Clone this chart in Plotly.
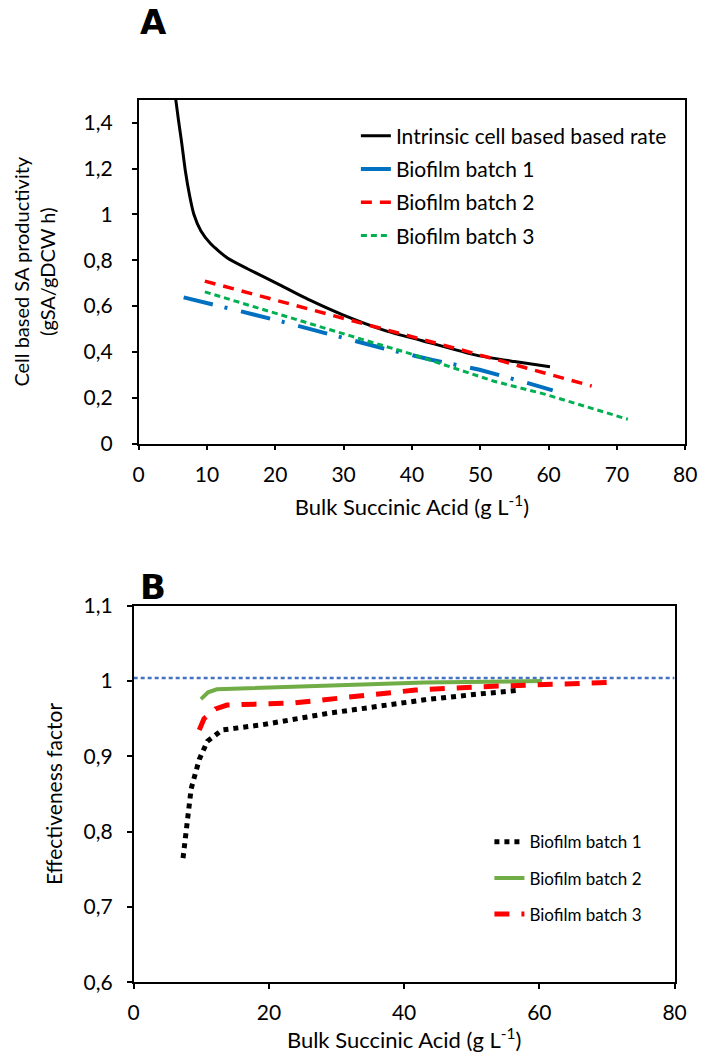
import plotly.graph_objects as go

# ---------------- Panel A data ----------------
intrinsic_x = [5.45, 5.85, 6.28, 6.85, 7.47, 8.1, 9.13, 10.56, 13.0, 16.0, 20.3, 25.0, 29.8, 36.2, 41.4, 49.4, 55.0, 60.2]
intrinsic_y = [1.50, 1.41, 1.32, 1.19, 1.083, 1.00, 0.928, 0.872, 0.81, 0.762, 0.698, 0.627, 0.563, 0.492, 0.45, 0.386, 0.358, 0.335]

a_batch1_x = [6.6, 10, 15, 20, 27.2, 35.6, 43, 49.9, 56.8, 60.6]
a_batch1_y = [0.638, 0.612, 0.577, 0.54, 0.482, 0.417, 0.365, 0.322, 0.265, 0.232]

a_batch2_x = [9.7, 20, 30.9, 40, 48.3, 59.4, 66.3]
a_batch2_y = [0.709, 0.627, 0.542, 0.47, 0.40, 0.308, 0.251]

a_batch3_x = [9.7, 20, 30.9, 40, 52, 59.4, 71.6]
a_batch3_y = [0.662, 0.568, 0.471, 0.39, 0.272, 0.216, 0.106]

# ---------------- Panel B data ----------------
b_batch1_x = [7.3, 7.8, 8.5, 9.7, 10.9, 13.1, 19.1, 28.7, 38.5, 43.0, 50.3, 57.2]
b_batch1_y = [0.765, 0.806, 0.857, 0.896, 0.92, 0.935, 0.942, 0.957, 0.969, 0.975, 0.982, 0.988]

b_batch2_x = [9.95, 11.0, 12.3, 19.1, 30.0, 43.0, 60.4]
b_batch2_y = [0.976, 0.985, 0.989, 0.991, 0.994, 0.998, 1.0]

b_batch3_x = [9.7, 10.4, 12.1, 13.8, 23.9, 33.5, 41.7, 53.2, 60.8, 70.0]
b_batch3_y = [0.935, 0.95, 0.963, 0.968, 0.971, 0.981, 0.988, 0.993, 0.996, 0.998]

ref_x = [0, 80]
ref_y = [1.004, 1.004]

FONT = "Lato"
W, H = 709, 1053

fig = go.Figure()

# Panel A traces
fig.add_trace(go.Scatter(x=intrinsic_x, y=intrinsic_y, mode="lines", name="Intrinsic cell based based rate",
                         line=dict(color="black", width=3, shape="spline", smoothing=0.6), legend="legend",
                         legendgroup="a1", xaxis="x", yaxis="y"))
fig.add_trace(go.Scatter(x=a_batch1_x, y=a_batch1_y, mode="lines", name="Biofilm batch 1",
                         line=dict(color="#0070C0", width=4, dash="30px,12px,3px,14px"), legend="legend",
                         legendgroup="a2", xaxis="x", yaxis="y"))
fig.add_trace(go.Scatter(x=a_batch2_x, y=a_batch2_y, mode="lines", name="Biofilm batch 2",
                         line=dict(color="#FF0000", width=3.5, dash="11px,8px"), legend="legend",
                         legendgroup="a3", xaxis="x", yaxis="y"))
fig.add_trace(go.Scatter(x=a_batch3_x, y=a_batch3_y, mode="lines", name="Biofilm batch 3",
                         line=dict(color="#00B050", width=3, dash="6px,4px"), legend="legend",
                         legendgroup="a4", xaxis="x", yaxis="y"))

# Panel B traces
fig.add_trace(go.Scatter(x=ref_x, y=ref_y, mode="lines", showlegend=False,
                         line=dict(color="#4472C4", width=2.5, dash="4px,3px"),
                         xaxis="x2", yaxis="y2"))
fig.add_trace(go.Scatter(x=b_batch1_x, y=b_batch1_y, mode="lines", name="Biofilm batch 1",
                         line=dict(color="black", width=5, dash="5px,5px"), legend="legend2",
                         legendgroup="b1", xaxis="x2", yaxis="y2"))
fig.add_trace(go.Scatter(x=b_batch2_x, y=b_batch2_y, mode="lines", name="Biofilm batch 2",
                         line=dict(color="#70AD47", width=4), legend="legend2",
                         legendgroup="b2", xaxis="x2", yaxis="y2"))
fig.add_trace(go.Scatter(x=b_batch3_x, y=b_batch3_y, mode="lines", name="Biofilm batch 3",
                         line=dict(color="#FF0000", width=5, dash="15px,12px"), legend="legend2",
                         legendgroup="b3", xaxis="x2", yaxis="y2"))

axis_common = dict(showgrid=False, zeroline=False, showline=True, linecolor="black", linewidth=1.5,
                   mirror=True, ticks="outside", ticklen=5, tickcolor="black", tickwidth=1.5,
                   tickfont=dict(family=FONT, size=21, color="black"))

fig.update_layout(
    width=W, height=H,
    margin=dict(l=0, r=0, t=0, b=0),
    paper_bgcolor="white", plot_bgcolor="white",
    separators=", ",
    font=dict(family=FONT, color="black"),
    xaxis=dict(domain=[136 / W, 697 / W], anchor="y", range=[0, 80], dtick=10, ticklabelstandoff=6,
               title=dict(text="Bulk Succinic Acid (g L<sup>-1</sup>)", font=dict(family=FONT, size=22), standoff=15),
               **axis_common),
    yaxis=dict(domain=[1 - 440 / H, 1 - 88 / H], anchor="x", range=[0, 1.5], dtick=0.2, ticklabelstandoff=15,
               title=dict(text="Cell based SA productivity<br>(gSA/gDCW h)", font=dict(family=FONT, size=20), standoff=22),
               **axis_common),
    xaxis2=dict(domain=[131 / W, 686 / W], anchor="y2", range=[0, 80], dtick=20, ticklabelstandoff=6,
                title=dict(text="Bulk Succinic Acid (g L<sup>-1</sup>)", font=dict(family=FONT, size=22), standoff=4),
                **axis_common),
    yaxis2=dict(domain=[1 - 992 / H, 1 - 606 / H], anchor="x2", range=[0.6, 1.1], dtick=0.1, ticklabelstandoff=10,
                title=dict(text="Effectiveness factor", font=dict(family=FONT, size=21), standoff=15),
                **axis_common),
    legend=dict(x=359 / W, y=1 - 104 / H, xanchor="left", yanchor="top", bgcolor="rgba(0,0,0,0)",
                font=dict(family=FONT, size=21), traceorder="grouped", tracegroupgap=3),
    legend2=dict(x=496 / W, y=1 - 830 / H, xanchor="left", yanchor="top", bgcolor="rgba(0,0,0,0)",
                 font=dict(family=FONT, size=17), traceorder="grouped", tracegroupgap=11),
    annotations=[
        dict(text="<b>A</b>", x=151 / W, y=1 - 8 / H, xref="paper", yref="paper", showarrow=False,
             xanchor="center", yanchor="middle",
             font=dict(family="DejaVu Sans", size=34, color="black")),
        dict(text="<b>B</b>", x=151 / W, y=1 - 587 / H, xref="paper", yref="paper", showarrow=False,
             xanchor="center", yanchor="middle",
             font=dict(family="DejaVu Sans", size=34, color="black")),
    ],
)

fig.write_html("out.html")
